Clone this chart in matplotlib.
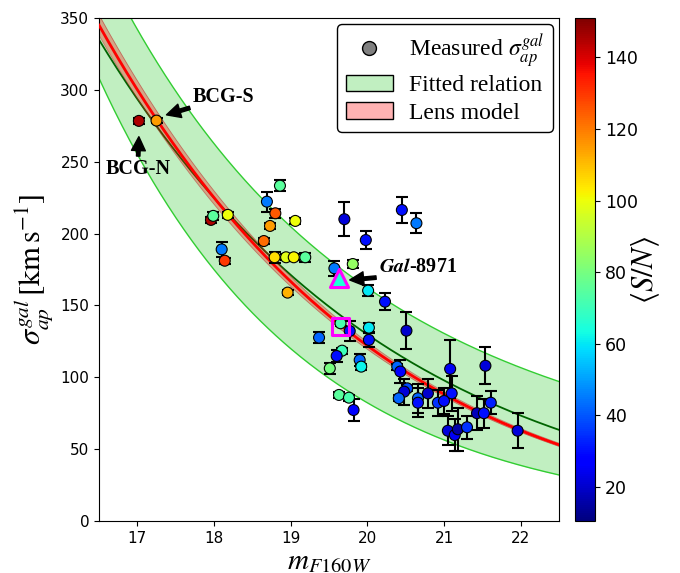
import numpy as np
import matplotlib
matplotlib.use('Agg')
import matplotlib.pyplot as plt
from matplotlib.patches import Patch
from matplotlib.lines import Line2D

plt.rcParams['mathtext.fontset'] = 'stix'
plt.rcParams['mathtext.bfit'] = 'STIXGeneral:bold:italic'
SERIF = ['Liberation Serif', 'STIXGeneral', 'DejaVu Serif']

# magnitude, velocity dispersion, error, mean S/N
mag = [17.02, 17.25, 18.86, 18.69, 18.80, 17.96, 17.99, 18.18, 19.06, 19.70,
       19.98, 18.73, 18.65, 18.10, 18.14, 18.79, 18.94, 19.04, 19.19, 19.81,
       19.57, 20.01, 18.96, 20.45, 20.64, 20.23, 20.51, 19.37, 19.65, 19.77,
       20.02, 20.02, 19.67, 19.60, 19.51, 19.90, 19.92, 19.63, 19.76, 19.82,
       20.39, 20.43, 20.52, 20.48, 20.41, 20.66, 20.66, 20.79, 21.08, 21.10,
       20.92, 21.00, 21.05, 21.14, 21.18, 21.30, 21.43, 21.52, 21.54, 21.61,
       21.96]
sigma = [278.4, 278.6, 233.3, 222.2, 214.1, 209.5, 212.3, 213.0, 208.8, 210.0,
         195.5, 205.3, 194.8, 189.0, 181.1, 183.5, 183.5, 183.5, 183.5, 178.8,
         175.8, 160.3, 158.9, 216.4, 207.2, 152.6, 132.4, 127.6, 137.6, 132.2,
         134.5, 126.0, 118.5, 114.8, 106.2, 112.0, 107.4, 87.7, 85.8, 77.2,
         107.4, 104.0, 92.3, 90.0, 85.4, 85.4, 82.3, 88.8, 105.8, 88.8,
         82.3, 83.5, 62.8, 59.8, 63.8, 65.2, 75.0, 75.0, 108.0, 82.3,
         62.8]
sigma_err = [2, 2, 4, 7, 3, 2, 3, 2, 2, 12,
             6, 2, 2, 5, 2, 4, 2, 2, 3, 3,
             5, 4, 2, 9, 7, 6, 13, 4, 2, 7,
             3, 5, 2, 4, 4, 4, 2, 2, 2, 7.5,
             2, 8, 2, 9, 2, 10, 10, 10, 20, 12,
             9, 9, 10, 11, 15, 8, 12, 10, 13, 8,
             12]
snr = [145, 115, 75, 45, 125, 145, 75, 100, 100, 22,
       30, 115, 122, 45, 130, 105, 98, 102, 75, 85,
       45, 60, 112, 30, 45, 30, 20, 42, 72, 30,
       60, 30, 70, 30, 80, 42, 62, 75, 72, 28,
       42, 28, 38, 22, 42, 42, 30, 20, 25, 30,
       35, 30, 22, 25, 15, 35, 18, 30, 22, 32,
       22]

# Gal-8971: measured and lens-model value
gal_mag, gal_sigma, gal_snr = 19.63, 168.9, 65
lens_mag, lens_sigma = 19.65, 135.2

# log10(sigma) = c0 + c1*(m-20) + c2*(m-20)^2
fit_mid = (2.1131, -0.1216, -0.00113)
fit_hi = (2.2101, -0.0978, 0.0034)
fit_lo = (1.915, -0.1639, 0.0)
lens_mid = (2.0862, -0.1382, -0.002619)
lens_dex = 0.009

SN_MIN, SN_MAX = 10.5, 151


def relation(m, c):
    x = m - 20
    return 10 ** (c[0] + c[1] * x + c[2] * x ** 2)


fig = plt.figure(figsize=(6.8, 5.73), dpi=100)
ax = fig.add_axes([0.1456, 0.0908, 0.6765, 0.8778])
cax = fig.add_axes([0.8456, 0.0908, 0.0294, 0.8778])

m = np.linspace(16.5, 22.5, 300)
ax.fill_between(m, relation(m, fit_lo), relation(m, fit_hi), color='limegreen', alpha=0.3, lw=0, zorder=1)
ax.plot(m, relation(m, fit_lo), color='limegreen', lw=1, zorder=1)
ax.plot(m, relation(m, fit_hi), color='limegreen', lw=1, zorder=1)
ax.plot(m, relation(m, fit_mid), color='darkgreen', lw=1.3, zorder=2)

lens = relation(m, lens_mid)
ax.fill_between(m, lens * 10 ** -lens_dex, lens * 10 ** lens_dex, color='red', alpha=0.3, lw=0, zorder=2)
ax.plot(m, lens * 10 ** -lens_dex, color='firebrick', lw=0.6, alpha=0.5, zorder=2)
ax.plot(m, lens * 10 ** lens_dex, color='firebrick', lw=0.6, alpha=0.5, zorder=2)
ax.plot(m, lens, color='red', lw=2, zorder=3)

ax.errorbar(mag, sigma, yerr=sigma_err, fmt='none', ecolor='black', elinewidth=1.5,
            capsize=4, capthick=1.5, zorder=4)
sc = ax.scatter(mag, sigma, c=snr, cmap='jet', vmin=SN_MIN, vmax=SN_MAX, s=62,
                edgecolors='black', linewidths=0.8, zorder=5)
ax.scatter([gal_mag], [gal_sigma], c=[gal_snr], cmap='jet', vmin=SN_MIN, vmax=SN_MAX,
           marker='^', s=170, edgecolors='magenta', linewidths=2.2, zorder=6)
ax.scatter([lens_mag], [lens_sigma], marker='s', s=150, facecolors='none',
           edgecolors='magenta', linewidths=2.2, zorder=6)

arrow = dict(facecolor='black', edgecolor='black', width=2.5, headwidth=10, headlength=10, shrink=0.0)
ax.annotate('BCG-S', xy=(17.38, 282.6), xytext=(17.72, 295), fontsize=14.5,
            fontweight='bold', family=SERIF, va='center', ha='left', arrowprops=arrow)
ax.annotate('BCG-N', xy=(17.02, 267.4), xytext=(17.01, 245), fontsize=14.5,
            fontweight='bold', family=SERIF, va='center', ha='center', arrowprops=arrow)
ax.annotate(r'$\mathbfit{Gal}$-8971', xy=(19.77, 167.7), xytext=(20.15, 176.5),
            fontsize=14.5, fontweight='bold', family=SERIF, va='center', ha='left',
            arrowprops=arrow)

ax.set_xlim(16.5, 22.5)
ax.set_ylim(0, 350)
ax.set_xticks([17, 18, 19, 20, 21, 22])
ax.tick_params(labelsize=11)
ax.set_xlabel(r'$m_{F160W}$', fontsize=21, labelpad=0)
ax.set_ylabel(r'$\sigma_{ap}^{gal}\,[\mathrm{km\,s^{-1}}]$', fontsize=22, labelpad=4)

handles = [
    Line2D([], [], ls='none', marker='o', markersize=10, markerfacecolor='gray',
           markeredgecolor='black'),
    Patch(facecolor=(0.196, 0.804, 0.196, 0.3), edgecolor='black'),
    Patch(facecolor=(1, 0, 0, 0.3), edgecolor='black'),
]
labels = [r'Measured $\sigma_{ap}^{gal}$', 'Fitted relation', 'Lens model']
leg = ax.legend(handles, labels, loc='upper right', prop={'family': SERIF, 'size': 17},
                framealpha=1, edgecolor='black', fancybox=True, handlelength=2.0,
                labelspacing=0.25, borderaxespad=0.25, borderpad=0.35, handletextpad=0.7)
leg.get_frame().set_linewidth(1.0)

cb = fig.colorbar(sc, cax=cax)
cb.set_ticks([20, 40, 60, 80, 100, 120, 140])
cb.ax.tick_params(labelsize=12.5)
cb.set_label(r'$\langle S/N\rangle$', fontsize=22, labelpad=-6)

fig.savefig('out.png', dpi=100)
